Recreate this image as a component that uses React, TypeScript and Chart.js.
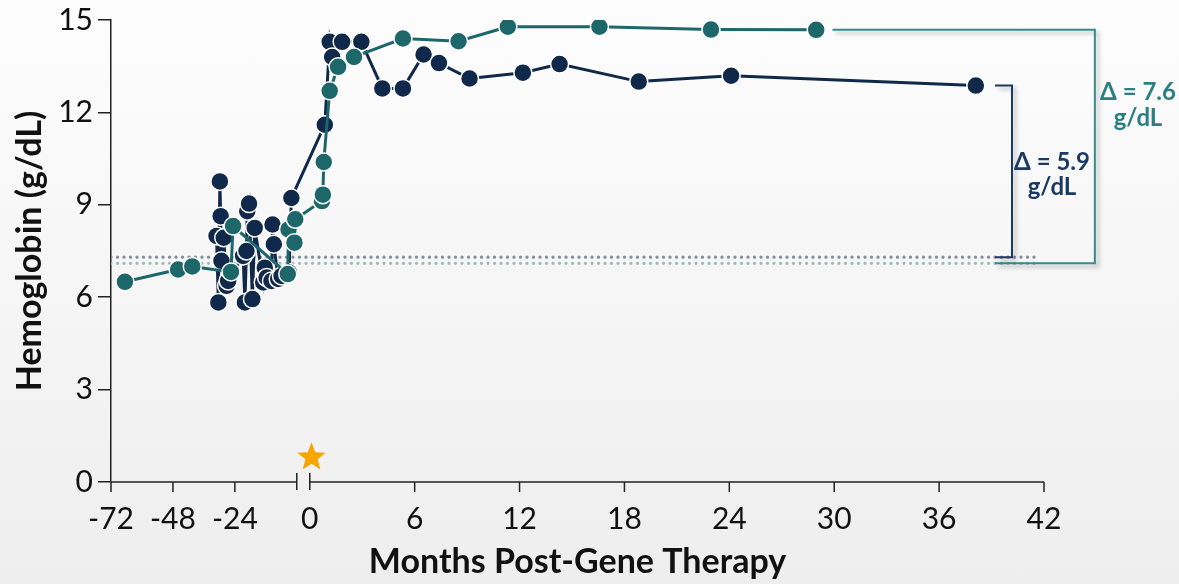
import React, { useEffect, useRef } from "react";
import { Chart, registerables } from "chart.js";

Chart.register(...registerables);

// ---------- data ----------
const darkMonths = [
  -31.1, -30.4, -29.8, -29.5, -29.2, -28.3, -27.2, -26.6,
  -20.8, -20.1, -19.5, -19.2, -18.5, -17.2, -16.3,
  -13.0, -12.4, -11.7, -9.8, -9.4, -8.9, -7.2, -5.9, -3.0, -2.1,
  0.86, 1.14, 1.28, 1.85, 2.95, 4.15, 5.33, 6.51, 7.39, 9.14, 12.19, 14.29, 18.82, 24.1, 38.1,
];
const darkHb = [
  7.99, 5.83, 9.76, 8.63, 7.18, 7.93, 6.37, 6.53,
  7.34, 5.83, 7.5, 8.79, 9.04, 5.94, 8.25,
  6.48, 6.96, 6.64, 6.53, 8.36, 7.72, 6.59, 6.69, 6.8, 9.22,
  11.6, 14.29, 13.8, 14.29, 14.29, 12.78, 12.78, 13.88, 13.6, 13.1, 13.29, 13.57, 13.0, 13.19, 12.87,
];

const tealMonths = [
  -66.6, -46.0, -40.5, -25.5, -24.7, -3.5, -3.2, -0.9, -0.6,
  0.7, 0.75, 0.8, 1.14, 1.62, 2.53, 5.33, 8.51, 11.33, 16.57, 22.95, 28.97,
];
const tealHb = [
  6.5, 6.9, 7.0, 6.82, 8.31, 6.75, 8.2, 7.77, 8.53,
  9.12, 9.33, 10.39, 12.7, 13.48, 13.8, 14.4, 14.31, 14.78, 14.78, 14.69, 14.68,
];

const xTickMonths = [-72, -48, -24, 0, 6, 12, 18, 24, 30, 36, 42];
const xTickLabels = ["-72", "-48", "-24", "0", "6", "12", "18", "24", "30", "36", "42"];
const yMin = 0;
const yMax = 15;
const yStep = 3;

const baselineDark = 7.3;
const baselineTeal = 7.1;
const refLineEndMonth = 41.6;

const deltaDarkLines = ["\u0394 = 5.9", "g/dL"];
const deltaTealLines = ["\u0394 = 7.6", "g/dL"];

const starMonth = 0.1;
const starHb = 0.8;

const xTitle = "Months Post-Gene Therapy";
const yTitle = "Hemoglobin (g/dL)";

// ---------- styling ----------
const DARK = "#10294a";
const TEAL = "#1d6669";
const DARK_BRACKET = "#1b3a63";
const TEAL_BRACKET = "#3a8b8c";
const DARK_TEXT = "#1b3a63";
const TEAL_TEXT = "#2a7f80";
const AXIS = "#222222";
const FONT = "Lato, 'Open Sans', sans-serif";

// broken axis: pre-therapy months are compressed
const PRE_SCALE = 0.1476;
const BREAK_GAP = 0.743;
const toAxis = (m: number) => (m >= 0 ? m : -BREAK_GAP + m * PRE_SCALE);

const decorPlugin = {
  id: "decor",
  afterDraw(chart: any) {
    const { ctx, scales } = chart;
    const x = scales.x;
    const y = scales.y;
    const y0 = y.getPixelForValue(0);
    ctx.save();

    // x axis line with break
    ctx.strokeStyle = AXIS;
    ctx.lineWidth = 1.5;
    const xL = x.getPixelForValue(toAxis(xTickMonths[0]));
    const xB1 = x.getPixelForValue(-BREAK_GAP);
    const xB2 = x.getPixelForValue(0);
    const xR = x.getPixelForValue(xTickMonths[xTickMonths.length - 1]);
    ctx.beginPath();
    ctx.moveTo(xL, y0);
    ctx.lineTo(xB1, y0);
    ctx.moveTo(xB2, y0);
    ctx.lineTo(xR, y0);
    for (const m of xTickMonths) {
      if (m === 0) continue;
      const px = x.getPixelForValue(toAxis(m));
      ctx.moveTo(px, y0);
      ctx.lineTo(px, y0 + 10);
    }
    for (const px of [xB1, xB2]) {
      ctx.moveTo(px, y0 - 9);
      ctx.lineTo(px, y0 + 8);
    }
    ctx.stroke();

    // star
    const sx = x.getPixelForValue(toAxis(starMonth));
    const sy = y.getPixelForValue(starHb);
    ctx.beginPath();
    for (let i = 0; i < 10; i++) {
      const r = i % 2 === 0 ? 15 : 6.4;
      const a = -Math.PI / 2 + (i * Math.PI) / 5;
      const px = sx + r * Math.cos(a);
      const py = sy + r * Math.sin(a);
      if (i === 0) ctx.moveTo(px, py);
      else ctx.lineTo(px, py);
    }
    ctx.closePath();
    ctx.fillStyle = "#f7a500";
    ctx.fill();

    // brackets
    const lastDark = darkHb[darkHb.length - 1];
    const lastTeal = tealHb[tealHb.length - 1];
    const bx0 = x.getPixelForValue(39.2);
    const bxDark = x.getPixelForValue(40.17);
    const bxTealStart = x.getPixelForValue(29.9);
    const bxTeal = x.getPixelForValue(44.91);
    ctx.shadowColor = "rgba(0,0,0,0.28)";
    ctx.shadowBlur = 4;
    ctx.shadowOffsetX = 3;
    ctx.shadowOffsetY = 3;
    ctx.lineWidth = 2;

    ctx.strokeStyle = TEAL_BRACKET;
    ctx.beginPath();
    ctx.moveTo(bxTealStart, y.getPixelForValue(lastTeal));
    ctx.lineTo(bxTeal, y.getPixelForValue(lastTeal));
    ctx.lineTo(bxTeal, y.getPixelForValue(baselineTeal));
    ctx.lineTo(bx0, y.getPixelForValue(baselineTeal));
    ctx.stroke();

    ctx.strokeStyle = DARK_BRACKET;
    ctx.beginPath();
    ctx.moveTo(bx0, y.getPixelForValue(lastDark));
    ctx.lineTo(bxDark, y.getPixelForValue(lastDark));
    ctx.lineTo(bxDark, y.getPixelForValue(baselineDark));
    ctx.lineTo(bx0, y.getPixelForValue(baselineDark));
    ctx.stroke();

    ctx.shadowColor = "rgba(0,0,0,0)";
    ctx.shadowBlur = 0;
    ctx.shadowOffsetX = 0;
    ctx.shadowOffsetY = 0;

    // delta labels
    ctx.font = `bold 24px ${FONT}`;
    ctx.textAlign = "center";
    ctx.textBaseline = "middle";
    ctx.fillStyle = DARK_TEXT;
    ctx.fillText(deltaDarkLines[0], 1052, 162);
    ctx.fillText(deltaDarkLines[1], 1052, 187);
    ctx.fillStyle = TEAL_TEXT;
    ctx.fillText(deltaTealLines[0], 1138, 92);
    ctx.fillText(deltaTealLines[1], 1138, 118);

    ctx.restore();
  },
};

export default function App() {
  const canvasRef = useRef<HTMLCanvasElement | null>(null);

  useEffect(() => {
    document.body.style.margin = "0";
    const canvas = canvasRef.current;
    if (!canvas) return;

    const pointStyle = (color: string) => ({
      borderColor: color,
      backgroundColor: color,
      pointBackgroundColor: color,
      pointBorderColor: "#ffffff",
      pointBorderWidth: 1.5,
      pointRadius: 9,
      pointHoverRadius: 9,
      borderWidth: 3,
      tension: 0,
    });

    const chart = new Chart(canvas, {
      type: "line",
      data: {
        datasets: [
          {
            label: "Patient B",
            data: tealMonths.map((m, i) => ({ x: toAxis(m), y: tealHb[i] })),
            ...pointStyle(TEAL),
            order: 0,
          },
          {
            label: "Patient A",
            data: darkMonths.map((m, i) => ({ x: toAxis(m), y: darkHb[i] })),
            ...pointStyle(DARK),
            order: 1,
          },
          {
            label: "Baseline A",
            data: [
              { x: toAxis(xTickMonths[0]), y: baselineDark },
              { x: refLineEndMonth, y: baselineDark },
            ],
            borderColor: "#7f909e",
            borderWidth: 3.3,
            borderDash: [0, 6.5],
            borderCapStyle: "round",
            pointRadius: 0,
            order: 2,
          },
          {
            label: "Baseline B",
            data: [
              { x: toAxis(xTickMonths[0]), y: baselineTeal },
              { x: refLineEndMonth, y: baselineTeal },
            ],
            borderColor: "#9bbcbe",
            borderWidth: 3.3,
            borderDash: [0, 6.5],
            borderCapStyle: "round",
            pointRadius: 0,
            order: 3,
          },
        ],
      } as any,
      options: {
        animation: false,
        responsive: false,
        maintainAspectRatio: false,
        layout: { padding: { top: 18, right: 135, bottom: 0, left: 0 } },
        plugins: {
          legend: { display: false },
          tooltip: { enabled: false },
        },
        scales: {
          x: {
            type: "linear",
            min: toAxis(xTickMonths[0]),
            max: xTickMonths[xTickMonths.length - 1],
            afterBuildTicks: (scale: any) => {
              scale.ticks = xTickMonths.map((m) => ({ value: toAxis(m) }));
            },
            afterFit: (scale: any) => {
              scale.height = 102;
            },
            ticks: {
              autoSkip: false,
              maxRotation: 0,
              padding: 19,
              color: "#111111",
              font: { family: FONT, size: 30 },
              callback: (_v: any, idx: number) => xTickLabels[idx],
            },
            grid: { display: false, drawTicks: false },
            border: { display: false },
            title: {
              display: true,
              text: xTitle,
              color: "#111111",
              font: { family: FONT, size: 34, weight: "bold" },
              padding: { top: 0, bottom: 2 },
            },
          },
          y: {
            type: "linear",
            min: yMin,
            max: yMax,
            afterFit: (scale: any) => {
              scale.width = 111;
            },
            ticks: {
              stepSize: yStep,
              padding: 5,
              color: "#111111",
              font: { family: FONT, size: 30, lineHeight: 1.0 },
            },
            grid: {
              drawOnChartArea: false,
              drawTicks: true,
              tickLength: 13,
              color: AXIS,
              lineWidth: 1.5,
            },
            border: { display: true, color: AXIS, width: 1.5 },
            title: {
              display: true,
              text: yTitle,
              color: "#111111",
              font: { family: FONT, size: 34, weight: "bold" },
              padding: { top: 10, bottom: 0 },
            },
          },
        },
      } as any,
      plugins: [decorPlugin],
    });

    return () => chart.destroy();
  }, []);

  return (
    <div
      style={{
        position: "fixed",
        left: 0,
        top: 0,
        width: 1179,
        height: 584,
        background: "linear-gradient(#fdfdfd, #eeeeee)",
      }}
    >
      <canvas ref={canvasRef} width={1179} height={584} style={{ display: "block" }} />
    </div>
  );
}
